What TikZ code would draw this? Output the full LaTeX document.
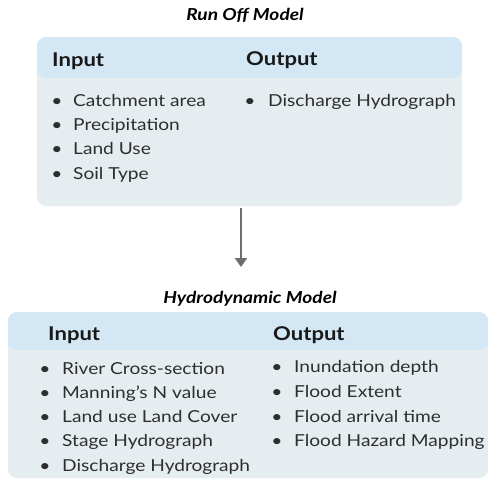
\documentclass[tikz,border=0pt]{standalone}
\usepackage{fontspec}
\setmainfont{Lato}[FakeStretch=1.16]
\usetikzlibrary{arrows.meta}
\definecolor{hdrblue}{HTML}{D3E7F4}
\definecolor{bodygrey}{HTML}{E6EDF0}
\definecolor{txt}{HTML}{2E2E2E}
\definecolor{arrgrey}{HTML}{6E6E6E}
\begin{document}
\begin{tikzpicture}[x=1pt,y=-1pt,
  panel/.style={rounded corners=9pt, fill=bodygrey, inner sep=0pt},
  title/.style={anchor=base, inner sep=0pt, font=\fontsize{16.5}{19}\selectfont\bfseries\itshape, text=black},
  head/.style={anchor=base west, inner sep=0pt, font=\fontsize{19}{22}\selectfont\bfseries, text=black!90},
  item/.style={anchor=base west, inner sep=0pt, font=\fontsize{16.5}{20}\selectfont, text=txt},
  dot/.style={anchor=base, inner sep=0pt, font=\fontsize{16.5}{20}\selectfont, text=txt},
  flow/.style={draw=arrgrey, line width=2.6pt, -{Triangle[length=9pt,width=12pt]}}
]
\useasboundingbox (0,0) rectangle (489,480);

% ---- Run-off model ----
\node[title] (t1) at (245,20.5) {Run Off Model};
\node[panel, minimum width=425pt, minimum height=169pt,
  path picture={\fill[hdrblue] (path picture bounding box.north west)
    rectangle ([yshift=-41pt]path picture bounding box.north east);}] (top) at (249.5,121.5) {};
\node[head] (tin) at (52,66) {Input};
\node[head] (tout) at (246,65.5) {Output};
\foreach \t [count=\i] in {Catchment area,Precipitation,Land Use,Soil Type}{
  \node[dot] (tb\i) at (57,106+24.4*\i-24.4) {•};
  \node[item] (ti\i) at (73,106+24.4*\i-24.4) {\t};
}
\node[dot] (tob1) at (250,106) {•};
\node[item] (to1) at (268,106) {Discharge Hydrograph};

% ---- connector ----
\coordinate (a1) at (241,208);
\coordinate (a2) at (241,267);
\draw[flow] (a1) -- (a2);

% ---- Hydrodynamic model ----
\node[title] (t2) at (250,303) {Hydrodynamic Model};
\node[panel, minimum width=480pt, minimum height=166pt,
  path picture={\fill[hdrblue] (path picture bounding box.north west)
    rectangle ([yshift=-38pt]path picture bounding box.north east);}] (bot) at (248,395) {};
\node[head] (bin) at (48,340) {Input};
\node[head] (bout) at (273,340) {Output};
\foreach \t [count=\i] in {River Cross-section,Manning's N value,Land use Land Cover,Stage Hydrograph,Discharge Hydrograph}{
  \node[dot] (bb\i) at (45,374+24.3*\i-24.3) {•};
  \node[item] (bi\i) at (62,374+24.3*\i-24.3) {\t};
}
\foreach \t [count=\i] in {Inundation depth,Flood Extent,Flood arrival time,Flood Hazard Mapping}{
  \node[dot] (bob\i) at (277,372.5+24.8*\i-24.8) {•};
  \node[item] (bo\i) at (294,372.5+24.8*\i-24.8) {\t};
}
\end{tikzpicture}
\end{document}
